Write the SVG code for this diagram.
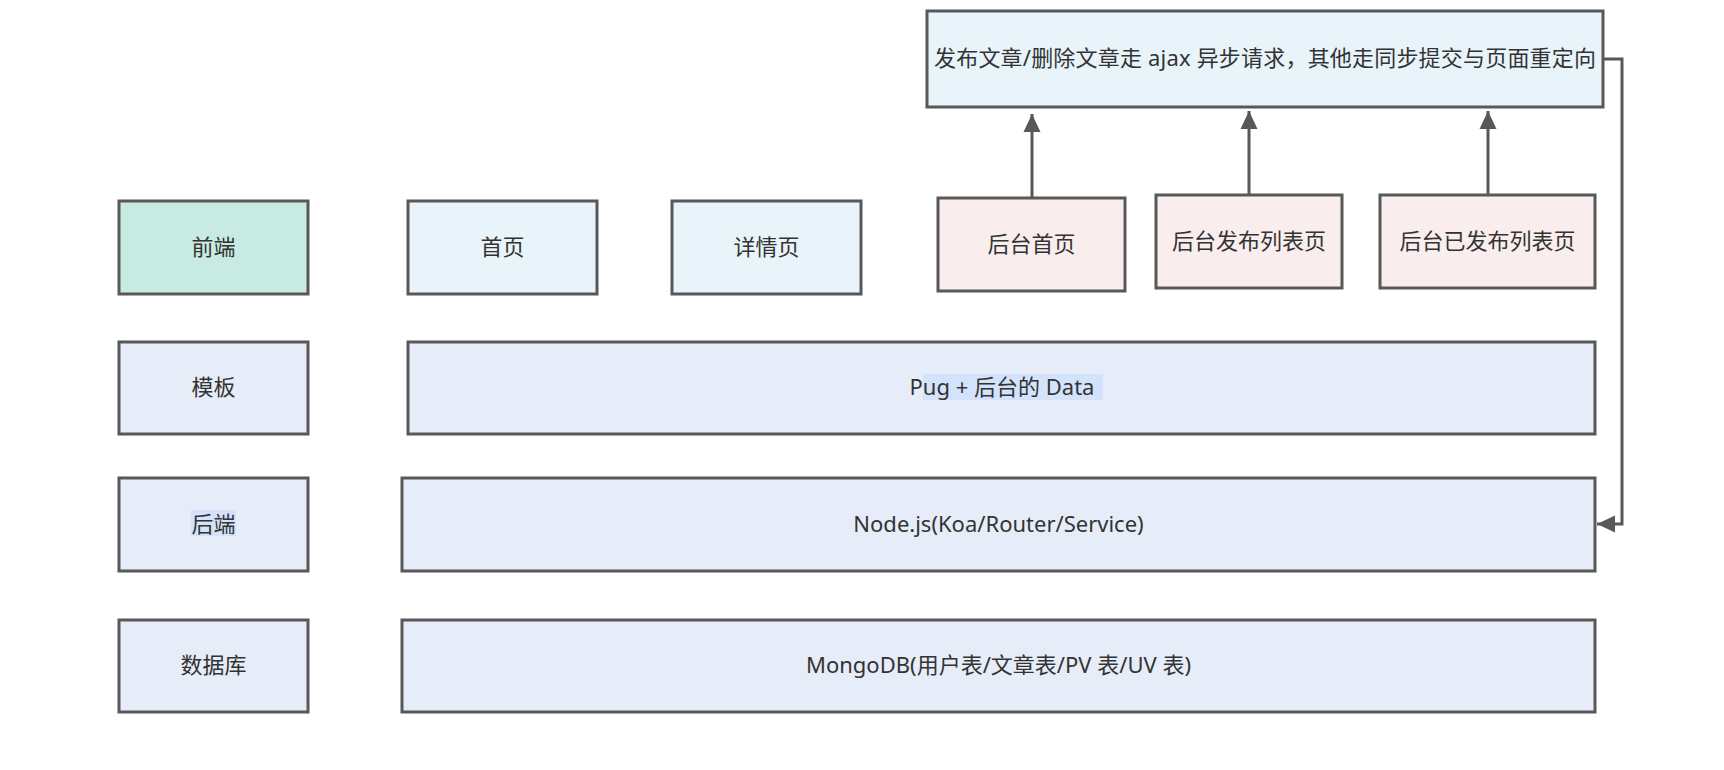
<svg xmlns="http://www.w3.org/2000/svg" width="1724" height="770" viewBox="0 0 1724 770">
<style>
.b{stroke:#585858;stroke-width:3}
.teal{fill:#c7eae2}
.sky{fill:#e8f4fa}
.pink{fill:#f9eeed}
.lav{fill:#e6edf9}
.t{font-family:"Noto Sans","Noto Sans CJK SC",sans-serif;font-size:22px;fill:#333;text-anchor:middle;dominant-baseline:central}
.hl{fill:#d3e3fb}
.c{fill:none;stroke:#585858;stroke-width:3}
</style>
<defs>
<marker id="ah" markerUnits="userSpaceOnUse" markerWidth="20" markerHeight="20" viewBox="0 0 20 20" refX="18" refY="10" orient="auto">
<path d="M0,1.5 L18,10 L0,18.5 Z" fill="#585858"/>
</marker>
</defs>
<rect width="1724" height="770" fill="#fff"/>
<g id="n-top"><rect class="b sky" x="927" y="11" width="676" height="96"/><text class="t" x="1265" y="57" textLength="662" lengthAdjust="spacing">发布文章/删除文章走 ajax 异步请求，其他走同步提交与页面重定向</text></g>
<g id="n-frontend"><rect class="b teal" x="119" y="201" width="189" height="93"/><text class="t" x="213.5" y="245.5">前端</text></g>
<g id="n-home"><rect class="b sky" x="408" y="201" width="189" height="93"/><text class="t" x="502.5" y="245.5">首页</text></g>
<g id="n-detail"><rect class="b sky" x="672" y="201" width="189" height="93"/><text class="t" x="766.5" y="245.5">详情页</text></g>
<g id="n-admin-home"><rect class="b pink" x="938" y="198" width="187" height="93"/><text class="t" x="1031.5" y="242.5">后台首页</text></g>
<g id="n-admin-publish"><rect class="b pink" x="1156" y="195" width="186" height="93"/><text class="t" x="1249" y="239.5">后台发布列表页</text></g>
<g id="n-admin-published"><rect class="b pink" x="1380" y="195" width="215" height="93"/><text class="t" x="1487.5" y="239.5">后台已发布列表页</text></g>
<g id="n-template"><rect class="b lav" x="119" y="342" width="189" height="92"/><text class="t" x="213.5" y="386">模板</text></g>
<g id="n-pug"><rect class="b lav" x="408" y="342" width="1187" height="92"/><rect class="hl" x="923" y="374" width="180" height="26"/><text class="t" x="1002" y="386">Pug + 后台的 Data</text></g>
<g id="n-backend"><rect class="b lav" x="119" y="478" width="189" height="93"/><rect class="hl" x="191" y="510" width="45" height="26"/><text class="t" x="213.5" y="522.5">后端</text></g>
<g id="n-node"><rect class="b lav" x="402" y="478" width="1193" height="93"/><text class="t" x="998.5" y="522.5">Node.js(Koa/Router/Service)</text></g>
<g id="n-db"><rect class="b lav" x="119" y="620" width="189" height="92"/><text class="t" x="213.5" y="664">数据库</text></g>
<g id="n-mongo"><rect class="b lav" x="402" y="620" width="1193" height="92"/><text class="t" x="998.5" y="664">MongoDB(用户表/文章表/PV 表/UV 表)</text></g>
<g id="connectors">
<path class="c" d="M1032,197 V114" marker-end="url(#ah)"/>
<path class="c" d="M1249,194 V111" marker-end="url(#ah)"/>
<path class="c" d="M1488,194 V111" marker-end="url(#ah)"/>
<path class="c" d="M1603,59 H1622 V524 H1597" marker-end="url(#ah)"/>
</g>
</svg>
